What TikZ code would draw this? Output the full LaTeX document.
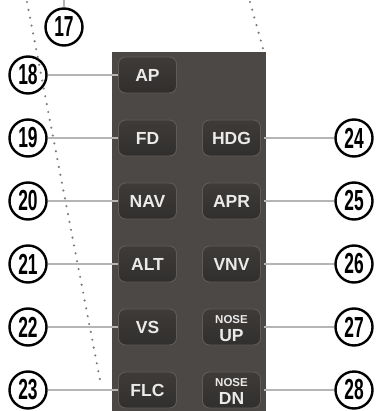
\documentclass[tikz,border=0pt]{standalone}
\usepackage{fontspec}
\setmainfont{Liberation Sans}
\usepackage{graphicx}
\definecolor{panelc}{HTML}{4B4846}
\definecolor{btntop}{HTML}{3E3B39}
\definecolor{btnbot}{HTML}{312F2D}
\definecolor{btnedge}{HTML}{5E5B58}
\definecolor{btntext}{HTML}{EAEAEA}
\definecolor{leadgray}{HTML}{B5B5B5}
\definecolor{dotgray}{HTML}{7C7C7C}
\begin{document}
\begin{tikzpicture}[x=1pt,y=-1pt,
  btn/.style={draw=btnedge, line width=0.9pt, top color=btntop, bottom color=btnbot, rounded corners=7pt, minimum width=58pt, minimum height=36pt, inner sep=0pt},
  btxt/.style={text=btntext, font=\bfseries\fontsize{17.5}{17.5}\selectfont, anchor=base, inner sep=0pt},
  bsmall/.style={text=btntext, font=\bfseries\fontsize{11.5}{11.5}\selectfont, anchor=base, inner sep=0pt},
  callout/.style={circle, draw=black, line width=2.4pt, minimum size=37pt, inner sep=0pt, font=\bfseries\fontsize{29}{29}\selectfont},
  lead/.style={draw=leadgray, line width=1.8pt},
  dots/.style={draw=dotgray, line width=2.4pt, line cap=round, dash pattern=on 0pt off 8pt}]
\useasboundingbox (0,0) rectangle (379,411);
% panel
\fill[panelc] (112,52) rectangle (266,411);
% buttons left
\node[btn] (b18) at (147.5,75) {};
\node[btn] (b19) at (147.5,138) {};
\node[btn] (b20) at (147.5,201) {};
\node[btn] (b21) at (147.5,264) {};
\node[btn] (b22) at (147.5,327) {};
\node[btn] (b23) at (147.5,390) {};
% buttons right
\node[btn] (b24) at (231.5,138) {};
\node[btn] (b25) at (231.5,201) {};
\node[btn] (b26) at (231.5,264) {};
\node[btn] (b27) at (231.5,327) {};
\node[btn] (b28) at (231.5,390) {};
% button texts
\node[btxt] (t18) at (147.5,81.5) {AP};
\node[btxt] (t19) at (147.5,144.5) {FD};
\node[btxt] (t20) at (147.5,207.5) {NAV};
\node[btxt] (t21) at (147.5,270.5) {ALT};
\node[btxt] (t22) at (147.5,333.5) {VS};
\node[btxt] (t23) at (147.5,396.5) {FLC};
\node[btxt] (t24) at (231.5,144.5) {HDG};
\node[btxt] (t25) at (231.5,207.5) {APR};
\node[btxt] (t26) at (231.5,270.5) {VNV};
\node[bsmall] (n27) at (231.5,323) {NOSE};
\node[btxt] (u27) at (231.5,341.5) {UP};
\node[bsmall] (n28) at (231.5,386) {NOSE};
\node[btxt] (u28) at (231.5,404.5) {DN};
% callouts
\node[callout] (c17) at (64,27) {\scalebox{0.6}[1]{17}};
\node[callout] (c18) at (28,75) {\scalebox{0.6}[1]{18}};
\node[callout] (c19) at (28,138) {\scalebox{0.6}[1]{19}};
\node[callout] (c20) at (28,201) {\scalebox{0.6}[1]{20}};
\node[callout] (c21) at (28,264) {\scalebox{0.6}[1]{21}};
\node[callout] (c22) at (28,327) {\scalebox{0.6}[1]{22}};
\node[callout] (c23) at (28,390) {\scalebox{0.6}[1]{23}};
\node[callout] (c24) at (354,138) {\scalebox{0.6}[1]{24}};
\node[callout] (c25) at (354,201) {\scalebox{0.6}[1]{25}};
\node[callout] (c26) at (354,264) {\scalebox{0.6}[1]{26}};
\node[callout] (c27) at (354,327) {\scalebox{0.6}[1]{27}};
\node[callout] (c28) at (354,390) {\scalebox{0.6}[1]{28}};
% leaders
\coordinate (top17) at (64,0);
\draw[lead] (c17) -- (top17);
\draw[lead] (c18) -- (b18);
\draw[lead] (c19) -- (b19);
\draw[lead] (c20) -- (b20);
\draw[lead] (c21) -- (b21);
\draw[lead] (c22) -- (b22);
\draw[lead] (c23) -- (b23);
\draw[lead, shorten <=3pt] (b24) -- (c24);
\draw[lead, shorten <=3pt] (b25) -- (c25);
\draw[lead, shorten <=3pt] (b26) -- (c26);
\draw[lead, shorten <=3pt] (b27) -- (c27);
\draw[lead, shorten <=3pt] (b28) -- (c28);
% dotted lines
\coordinate (d1) at (27,2);
\coordinate (d2) at (101,385);
\coordinate (d3) at (250,2);
\coordinate (d4) at (264,52);
\draw[dots] (d1) -- (d2);
\draw[dots] (d3) -- (d4);
\end{tikzpicture}
\end{document}
